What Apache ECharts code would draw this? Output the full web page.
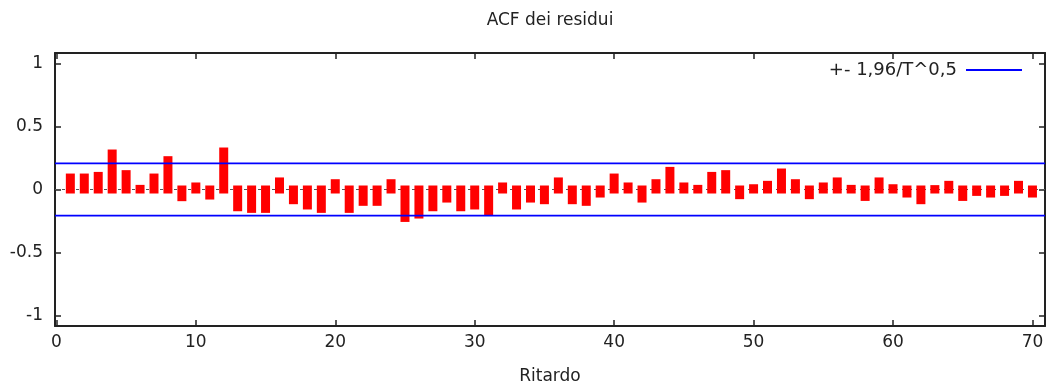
<!DOCTYPE html>
<html>
<head>
<meta charset="utf-8">
<script src="https://cdn.jsdelivr.net/npm/echarts@6/dist/echarts.min.js"></script>
<style>
  html, body { margin: 0; padding: 0; background: #fff; }
  #chart { width: 1049px; height: 390px; }
</style>
</head>
<body>
<div id="chart"></div>
<script>
// Residual autocorrelations, lags 1..70
const lags = [];
for (let k = 1; k <= 70; k++) lags.push(k);
const acf = [
  0.095, 0.095, 0.108, 0.286, 0.122, 0.005, 0.095, 0.233, -0.061, 0.024,
  -0.048, 0.302, -0.141, -0.154, -0.154, 0.064, -0.085, -0.127, -0.154, 0.050,
  -0.154, -0.098, -0.098, 0.050, -0.226, -0.199, -0.141, -0.072, -0.141, -0.127,
  -0.175, 0.024, -0.127, -0.072, -0.085, 0.064, -0.085, -0.098, -0.032, 0.095,
  0.024, -0.072, 0.050, 0.148, 0.024, 0.005, 0.108, 0.122, -0.045, 0.010,
  0.037, 0.135, 0.050, -0.045, 0.024, 0.064, 0.005, -0.059, 0.064, 0.010,
  -0.032, -0.085, 0.003, 0.037, -0.059, -0.019, -0.032, -0.019, 0.037, -0.032
];
// 1.96 / sqrt(T)
const band = 0.207;
const bandName = '+- 1,96/T^0,5';
const xTicks = [0, 10, 20, 30, 40, 50, 60, 70];
const yTicks = [-1, -0.5, 0, 0.5, 1];
const xRange = [-0.1, 70.9];
const yRange = [-1.085, 1.085];

const FONT = 'DejaVu Sans';
const FS = 17;
const INK = '#222';
const BAR_W = 9;   // impulse thickness in px
const CAP = 4;     // impulse overhang past both ends, px

const xBase = {
  type: 'value', min: xRange[0], max: xRange[1],
  axisLine: { show: true, onZero: false, lineStyle: { color: INK, width: 2 } },
  splitLine: { show: false },
  axisTick: { show: true, inside: true, length: 6, customValues: xTicks, lineStyle: { color: INK, width: 1.5 } }
};
const yBase = {
  type: 'value', min: yRange[0], max: yRange[1],
  axisLine: { show: true, onZero: false, lineStyle: { color: INK, width: 2 } },
  splitLine: { show: false },
  axisTick: { show: true, inside: true, length: 6, customValues: yTicks, lineStyle: { color: INK, width: 1.5 } }
};

// thick impulse from 0 to the value, with square ends
function renderImpulse(params, api) {
  const x = api.value(0);
  const v = api.value(1);
  const p0 = api.coord([x, 0]);
  const p1 = api.coord([x, v]);
  const top = Math.min(p0[1], p1[1]) - CAP;
  const bottom = Math.max(p0[1], p1[1]) + CAP;
  return {
    type: 'rect',
    shape: { x: p0[0] - BAR_W / 2, y: top, width: BAR_W, height: bottom - top },
    style: { fill: '#ff0000' }
  };
}

const option = {
  animation: false,
  backgroundColor: '#fff',
  textStyle: { fontFamily: FONT },
  title: {
    text: 'ACF dei residui',
    left: 545, top: 7, textAlign: 'center',
    textStyle: { fontFamily: FONT, fontSize: FS, fontWeight: 'normal', color: INK }
  },
  legend: {
    data: [{ name: bandName, icon: 'rect' }],
    right: 27, top: 61, padding: 0,
    align: 'right',
    itemWidth: 56, itemHeight: 2,
    textStyle: { fontFamily: FONT, fontSize: 18, color: INK, padding: [0, 4, 0, 0] }
  },
  grid: { left: 55, right: 4, top: 53, bottom: 64 },
  xAxis: [
    Object.assign({}, xBase, {
      position: 'bottom',
      name: 'Ritardo', nameLocation: 'middle', nameGap: 42,
      nameTextStyle: { fontFamily: FONT, fontSize: FS, color: INK },
      axisLabel: { show: true, customValues: xTicks, margin: 8, fontFamily: FONT, fontSize: FS, color: INK }
    }),
    Object.assign({}, xBase, { position: 'top', axisLabel: { show: false } })
  ],
  yAxis: [
    Object.assign({}, yBase, {
      position: 'left',
      axisLabel: {
        show: true, customValues: yTicks, margin: 12, fontFamily: FONT, fontSize: FS, color: INK,
        formatter: v => String(v)
      }
    }),
    Object.assign({}, yBase, { position: 'right', axisLabel: { show: false } })
  ],
  series: [
    {
      // dotted zero axis, under the bars
      type: 'line', silent: true, z: 1, symbol: 'none',
      data: [[xRange[0], 0], [xRange[1], 0]],
      lineStyle: { color: '#555', width: 1.2, type: [3, 4] }
    },
    {
      type: 'custom', z: 2,
      renderItem: renderImpulse,
      encode: { x: 0, y: 1 },
      data: lags.map((k, i) => [k, acf[i]])
    },
    {
      name: bandName, type: 'line', z: 3, symbol: 'none', color: '#0000ff',
      data: [[xRange[0], band], [xRange[1], band]],
      lineStyle: { color: '#0000ff', width: 1.8 }
    },
    {
      name: bandName, type: 'line', z: 3, symbol: 'none', color: '#0000ff',
      data: [[xRange[0], -band], [xRange[1], -band]],
      lineStyle: { color: '#0000ff', width: 1.8 }
    }
  ]
};

const chart = echarts.init(document.getElementById('chart'), null, { renderer: 'canvas' });
chart.setOption(option);
</script>
</body>
</html>
